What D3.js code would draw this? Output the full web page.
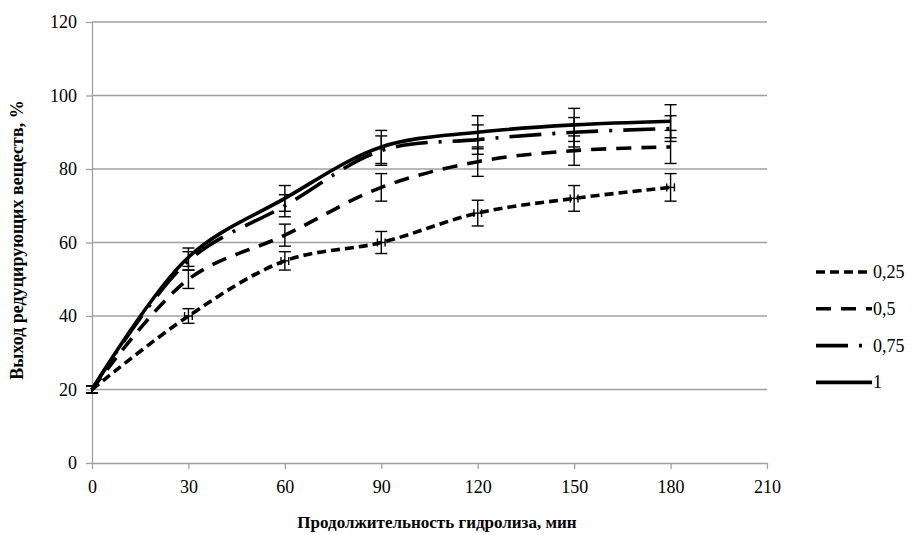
<!DOCTYPE html>
<html>
<head>
<meta charset="utf-8">
<script src="https://cdn.jsdelivr.net/npm/d3@7"></script>
<style>
  body { margin: 0; background: #fff; }
</style>
</head>
<body>
<div id="chart"></div>
<script>
// Data
const times = [0, 30, 60, 90, 120, 150, 180];
const seriesNames = ["0,25", "0,5", "0,75", "1"];
const y025 = [20, 40, 55, 60, 68, 72, 75];
const y05 = [20, 50, 62, 75, 82, 85, 86];
const y075 = [20, 55, 70, 85, 88, 90, 91];
const y1 = [20, 56, 72, 86, 90, 92, 93];
const err025 = [1, 2, 2.5, 3, 3.5, 3.5, 3.75];
const err05 = [1, 2.5, 3, 3.75, 4, 4, 4.5];
const err075 = [1, 2.5, 3, 4, 4, 4, 3.5];
const err1 = [1, 2.5, 3.5, 4.5, 4.5, 4.5, 4.5];
const xTicks = [0, 30, 60, 90, 120, 150, 180, 210];
const yTicks = [0, 20, 40, 60, 80, 100, 120];

const width = 922, height = 535;
const margin = {left: 92, right: 155, top: 22, bottom: 72};
const w = width - margin.left - margin.right;
const h = height - margin.top - margin.bottom;
const serif = "Liberation Serif";

const series = [
  {name: seriesNames[0], values: y025, err: err025, dash: "9,5", xerr: 1.2},
  {name: seriesNames[1], values: y05, err: err05, dash: "15,10", xerr: 0},
  {name: seriesNames[2], values: y075, err: err075, dash: "32,11,3,11", xerr: 0},
  {name: seriesNames[3], values: y1, err: err1, dash: null, xerr: 0}
];

const svg = d3.select("#chart")
  .append("svg")
  .attr("width", width)
  .attr("height", height)
  .attr("font-family", serif);

const g = svg.append("g")
  .attr("transform", `translate(${margin.left}, ${margin.top})`);

const x = d3.scaleLinear().domain([0, 210]).range([0, w]);
const y = d3.scaleLinear().domain([0, 120]).range([h, 0]);

// gridlines
g.append("g")
  .selectAll("line")
  .data(yTicks.filter(d => d > 0))
  .join("line")
  .attr("x1", 0)
  .attr("x2", w)
  .attr("y1", d => y(d))
  .attr("y2", d => y(d))
  .attr("stroke", "#a0a0a0")
  .attr("stroke-width", 1.3);

// Y axis
const yAxis = g.append("g")
  .call(d3.axisLeft(y).tickValues(yTicks).tickSize(6).tickPadding(9))
  .attr("font-family", serif);
yAxis.selectAll("line, path").attr("stroke", "#a0a0a0").attr("stroke-width", 1.3);
yAxis.select(".domain").attr("d", `M0.5,0V${h}`);
yAxis.selectAll("text").attr("font-size", 18).attr("fill", "#000");

// X axis
const xAxis = g.append("g")
  .attr("transform", `translate(0, ${h})`)
  .call(d3.axisBottom(x).tickValues(xTicks).tickSize(6).tickPadding(11))
  .attr("font-family", serif);
xAxis.select(".domain").attr("d", `M0,0.5H${w}`);
xAxis.selectAll("line, path").attr("stroke", "#a0a0a0").attr("stroke-width", 1.3);
xAxis.selectAll("text").attr("font-size", 18).attr("fill", "#000");

// axis titles
svg.append("text")
  .attr("x", 437)
  .attr("y", 528)
  .attr("text-anchor", "middle")
  .attr("font-size", 17)
  .attr("font-weight", "bold")
  .text("Продолжительность гидролиза, мин");

svg.append("text")
  .attr("transform", `translate(23, 240) rotate(-90)`)
  .attr("text-anchor", "middle")
  .attr("font-size", 18)
  .attr("font-weight", "bold")
  .text("Выход  редуцирующих веществ, %");

// lines
const line = d3.line()
  .curve(d3.curveCatmullRom.alpha(0.5))
  .x((d, i) => x(times[i]))
  .y(d => y(d));

g.selectAll(".series")
  .data(series)
  .join("path")
  .attr("class", "series")
  .attr("d", d => line(d.values))
  .attr("fill", "none")
  .attr("stroke", "#000")
  .attr("stroke-width", 3.6)
  .attr("stroke-dasharray", d => d.dash);

// error bars
const cap = 6;
series.forEach(s => {
  const eb = g.append("g").attr("stroke", "#000").attr("stroke-width", 1.4);
  s.values.forEach((v, i) => {
    const cx = x(times[i]);
    const top = y(v + s.err[i]), bot = y(v - s.err[i]);
    eb.append("line").attr("x1", cx).attr("x2", cx).attr("y1", top).attr("y2", bot);
    eb.append("line").attr("x1", cx - cap).attr("x2", cx + cap).attr("y1", top).attr("y2", top);
    eb.append("line").attr("x1", cx - cap).attr("x2", cx + cap).attr("y1", bot).attr("y2", bot);
    if (s.xerr > 0 && i > 0) {
      const l = x(times[i] - s.xerr), r = x(times[i] + s.xerr), cy = y(v);
      eb.append("line").attr("x1", l).attr("x2", r).attr("y1", cy).attr("y2", cy);
      eb.append("line").attr("x1", l).attr("x2", l).attr("y1", cy - 4).attr("y2", cy + 4);
      eb.append("line").attr("x1", r).attr("x2", r).attr("y1", cy - 4).attr("y2", cy + 4);
    }
  });
});

// legend
const legend = svg.append("g").attr("transform", "translate(816, 272)");
const item = legend.selectAll("g")
  .data(series)
  .join("g")
  .attr("transform", (d, i) => `translate(0, ${i * 36.8})`);
item.append("line")
  .attr("x1", 0)
  .attr("x2", 56)
  .attr("y1", 0)
  .attr("y2", 0)
  .attr("stroke", "#000")
  .attr("stroke-width", 3.6)
  .attr("stroke-dasharray", d => d.dash);
item.append("text")
  .attr("x", 57)
  .attr("y", 6)
  .attr("font-size", 18)
  .text(d => d.name);
</script>
</body>
</html>
